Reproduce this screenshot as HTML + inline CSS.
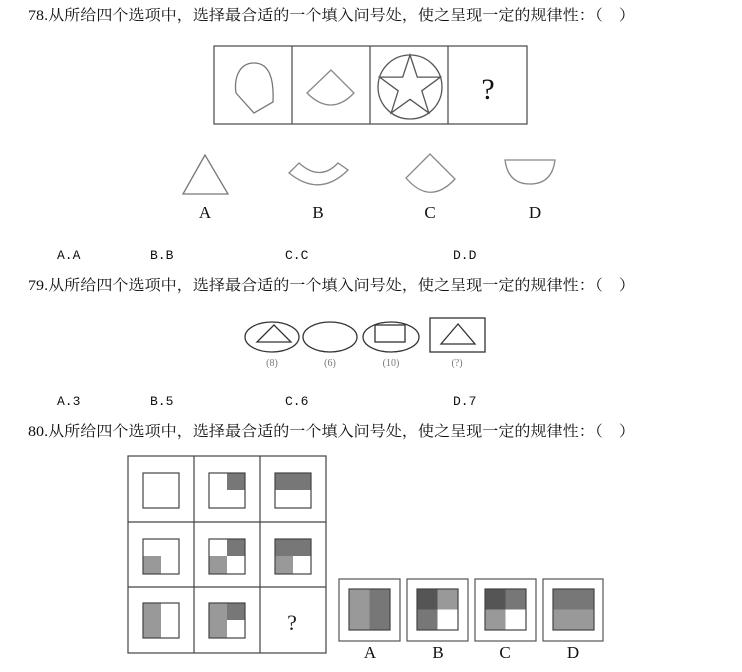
<!DOCTYPE html>
<html><head><meta charset="utf-8"><style>
html,body{margin:0;padding:0;background:#fff;}
svg{display:block;}
.q{font-family:"Liberation Serif","Noto Serif CJK SC",serif;font-size:15px;fill:#111;}
.a{font-family:"Liberation Mono","Noto Serif CJK SC",monospace;font-size:13px;fill:#111;}
.l{font-family:"Liberation Serif",serif;font-size:17px;fill:#111;}
.s{font-family:"Liberation Serif",serif;font-size:10px;fill:#777;}
</style></head><body>
<svg width="742" height="672" viewBox="0 0 742 672" xmlns="http://www.w3.org/2000/svg">
<text class="q" x="28" y="20" textLength="607" lengthAdjust="spacingAndGlyphs">78.从所给四个选项中，选择最合适的一个填入问号处，使之呈现一定的规律性：（　）</text>
<g fill="none" stroke="#555" stroke-width="1.3">
<rect x="214" y="46" width="313" height="78"/>
<line x1="292" y1="46" x2="292" y2="124"/><line x1="370" y1="46" x2="370" y2="124"/><line x1="448" y1="46" x2="448" y2="124"/>
<path d="M236,93 L254,113 L273,102 C274,80 270,63 254,63 C238,63 234,80 236,93 Z" stroke="#777"/>
<path d="M331,70 L307,93 Q331,117 354,93 Z" stroke="#888"/>
<circle cx="410" cy="87" r="32"/>
<polygon points="410,55 417.3,77.1 440.4,77.1 421.8,90.8 428.8,112.9 410,99.3 391.2,112.9 398.2,90.8 379.6,77.1 402.7,77.1"/>
<polygon points="205,155 183,194 228,194" stroke="#777"/>
<path d="M289,173 L299,163 Q320,182 338,163 L348,170 Q320,198 289,173 Z" stroke="#888"/>
<path d="M430,154 L406,178 Q430,206 455,179 Z" stroke="#888"/>
<path d="M505,160 L555,160 Q552,184 530,184 Q508,184 505,160 Z" stroke="#888"/>
</g>
<text x="488" y="99" font-family="Liberation Serif,serif" font-size="30" text-anchor="middle" fill="#111">?</text>
<text class="l" x="205" y="218" text-anchor="middle">A</text>
<text class="l" x="318" y="218" text-anchor="middle">B</text>
<text class="l" x="430" y="218" text-anchor="middle">C</text>
<text class="l" x="535" y="218" text-anchor="middle">D</text>
<text class="a" x="57" y="259">A.A</text><text class="a" x="150" y="259">B.B</text><text class="a" x="285" y="259">C.C</text><text class="a" x="453" y="259">D.D</text>

<text class="q" x="28" y="290" textLength="607" lengthAdjust="spacingAndGlyphs">79.从所给四个选项中，选择最合适的一个填入问号处，使之呈现一定的规律性：（　）</text>
<g fill="none" stroke="#333" stroke-width="1.3">
<ellipse cx="272" cy="337" rx="27" ry="15"/>
<polygon points="274,325 257,342 291,342"/>
<ellipse cx="330" cy="337" rx="27" ry="15"/>
<ellipse cx="391" cy="337" rx="28" ry="15"/>
<rect x="375" y="325" width="30" height="17"/>
<rect x="430" y="318" width="55" height="34"/>
<polygon points="458,324 441,344 475,344"/>
</g>
<text class="s" x="272" y="366" text-anchor="middle">(8)</text>
<text class="s" x="330" y="366" text-anchor="middle">(6)</text>
<text class="s" x="391" y="366" text-anchor="middle">(10)</text>
<text class="s" x="457" y="366" text-anchor="middle">(?)</text>
<text class="a" x="57" y="405">A.3</text><text class="a" x="150" y="405">B.5</text><text class="a" x="285" y="405">C.6</text><text class="a" x="453" y="405">D.7</text>

<text class="q" x="28" y="436" textLength="607" lengthAdjust="spacingAndGlyphs">80.从所给四个选项中，选择最合适的一个填入问号处，使之呈现一定的规律性：（　）</text>
<g stroke="#444" stroke-width="1.2">
<rect x="128" y="456" width="198" height="197" fill="none"/>
<line x1="194" y1="456" x2="194" y2="653"/><line x1="260" y1="456" x2="260" y2="653"/>
<line x1="128" y1="522" x2="326" y2="522"/><line x1="128" y1="587" x2="326" y2="587"/>
</g>
<g stroke="none">
<rect x="227" y="473" width="18" height="17" fill="#777"/>
<rect x="275" y="473" width="36" height="17" fill="#777"/>
<rect x="143" y="556" width="18" height="18" fill="#999"/>
<rect x="227" y="539" width="18" height="17" fill="#777"/>
<rect x="209" y="556" width="18" height="18" fill="#999"/>
<rect x="275" y="539" width="36" height="17" fill="#777"/>
<rect x="275" y="556" width="18" height="18" fill="#999"/>
<rect x="143" y="603" width="18" height="35" fill="#999"/>
<rect x="209" y="603" width="18" height="35" fill="#999"/>
<rect x="227" y="603" width="18" height="17" fill="#777"/>
</g>
<g fill="none" stroke="#444" stroke-width="1.2">
<rect x="143" y="473" width="36" height="35"/><rect x="209" y="473" width="36" height="35"/><rect x="275" y="473" width="36" height="35"/>
<rect x="143" y="539" width="36" height="35"/><rect x="209" y="539" width="36" height="35"/><rect x="275" y="539" width="36" height="35"/>
<rect x="143" y="603" width="36" height="35"/><rect x="209" y="603" width="36" height="35"/>
</g>
<text x="292" y="630" font-family="Liberation Serif,serif" font-size="22" text-anchor="middle" fill="#222">?</text>
<g fill="none" stroke="#555" stroke-width="1.2">
<rect x="339" y="579" width="61" height="62"/><rect x="407" y="579" width="61" height="62"/><rect x="475" y="579" width="61" height="62"/><rect x="543" y="579" width="60" height="62"/>
</g>
<rect x="349" y="589" width="20.5" height="41" fill="#999"/><rect x="369.5" y="589" width="20.5" height="41" fill="#777"/>
<rect x="417" y="589" width="20.5" height="20.5" fill="#555"/><rect x="437.5" y="589" width="20.5" height="20.5" fill="#999"/><rect x="417" y="609.5" width="20.5" height="20.5" fill="#777"/>
<rect x="485" y="589" width="20.5" height="20.5" fill="#555"/><rect x="505.5" y="589" width="20.5" height="20.5" fill="#777"/><rect x="485" y="609.5" width="20.5" height="20.5" fill="#999"/>
<rect x="553" y="589" width="41" height="20.5" fill="#777"/><rect x="553" y="609.5" width="41" height="20.5" fill="#999"/>
<g fill="none" stroke="#444" stroke-width="1.2">
<rect x="349" y="589" width="41" height="41"/><rect x="417" y="589" width="41" height="41"/><rect x="485" y="589" width="41" height="41"/><rect x="553" y="589" width="41" height="41"/>
</g>
<text class="l" x="370" y="658" font-size="14" text-anchor="middle">A</text>
<text class="l" x="438" y="658" font-size="14" text-anchor="middle">B</text>
<text class="l" x="505" y="658" font-size="14" text-anchor="middle">C</text>
<text class="l" x="573" y="658" font-size="14" text-anchor="middle">D</text>
</svg>
</body></html>
